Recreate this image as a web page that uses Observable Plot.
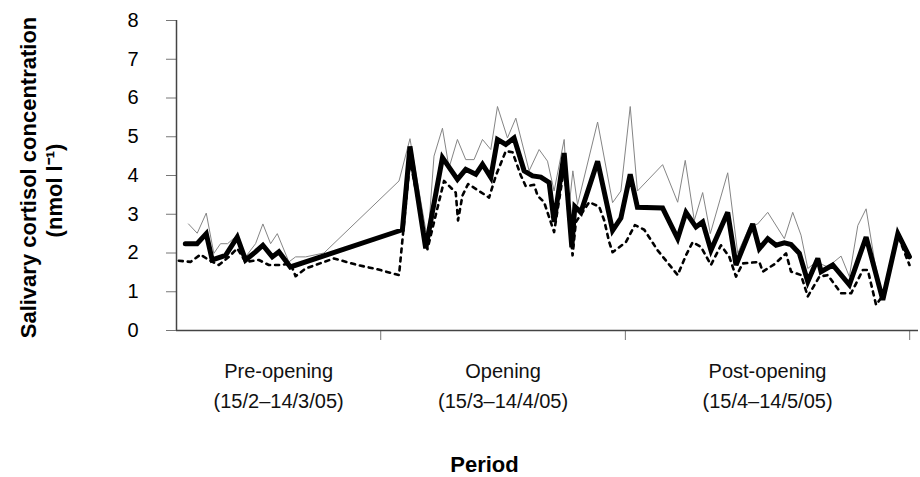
<!DOCTYPE html>
<html>
<head>
<meta charset="utf-8">
<script src="https://cdn.jsdelivr.net/npm/d3@7"></script>
<script src="https://cdn.jsdelivr.net/npm/@observablehq/plot@0.6"></script>
<style>
  html, body { margin: 0; padding: 0; background: #fff; }
  svg g[aria-label="y-axis tick"] path, svg g[aria-label="x-axis tick"] path { stroke: #777; }
</style>
</head>
<body>
<div id="chart"></div>
<script>
// Sample position along the study (arbitrary sampling index) and cortisol (nmol/l)
const thinSeries = [
  [1.63,2.75],[2.82,2.51],[4.05,3.03],[5.08,1.99],[5.99,2.24],[6.95,2.24],[8.27,2.46],[9.4,1.9],
  [10.76,2.24],[11.76,2.75],[12.81,2.24],[13.72,2.5],[15.3,1.77],[16.21,1.9],[17.57,1.9],[20.07,2.0],
  [30.29,3.86],[31.78,4.95],[34.2,2.3],[35.05,4.5],[36.2,5.22],[37.1,4.2],[38.24,4.93],[39.37,4.41],
  [40.5,4.41],[41.65,4.93],[42.78,4.67],[43.69,5.78],[45.05,4.97],[46.19,5.48],[48.0,4.12],[49.36,4.67],
  [50.5,4.37],[51.4,3.6],[52.77,4.93],[53.34,3.0],[53.95,4.12],[54.59,3.25],[57.32,5.38],[59.36,3.3],
  [60.49,3.6],[61.76,5.78],[62.74,3.6],[66.17,4.28],[68.22,3.31],[69.25,4.39],[70.48,2.84],[71.62,3.56],
  [72.66,2.5],[75.03,4.07],[76.39,1.99],[77.97,2.67],[79.11,2.75],[80.48,3.05],[82.74,2.37],[83.88,3.05],
  [85.01,2.46],[85.93,1.6],[87.06,1.77],[88.65,1.64],[90.46,1.92],[91.59,1.39],[92.74,2.71],[93.87,3.14],
  [95.0,1.82],[96.14,0.83],[98.19,2.5],[99.77,1.9]
];
const dashedSeries = [
  [0.31,1.8],[1.91,1.77],[3.27,1.96],[4.4,1.82],[5.76,1.69],[7.13,1.9],[8.27,2.12],[9.4,1.77],
  [11.21,1.82],[12.57,1.69],[14.17,1.69],[15.53,1.73],[16.21,1.4],[17.57,1.6],[21.43,1.86],[24.62,1.69],
  [27.34,1.58],[30.29,1.43],[30.75,2.33],[31.78,4.4],[34.16,2.1],[36.42,3.86],[38.01,3.56],[38.32,2.84],
  [38.92,3.48],[39.69,3.78],[41.19,3.6],[42.55,3.43],[43.46,3.99],[44.82,4.63],[45.74,4.6],[46.87,4.0],
  [47.55,3.72],[48.68,3.76],[49.14,3.48],[50.04,3.31],[51.4,2.54],[52.77,4.2],[53.91,1.94],[54.36,2.8],
  [56.17,3.31],[57.53,3.2],[58.22,2.84],[58.9,2.28],[59.36,2.02],[61.17,2.28],[62.4,2.72],[63.67,2.6],
  [65.49,2.07],[68.22,1.43],[69.35,1.94],[70.26,2.28],[71.39,2.16],[72.75,1.69],[74.11,2.2],[75.25,1.9],
  [76.16,1.39],[77.07,1.73],[79.33,1.77],[79.8,1.52],[81.38,1.71],[82.97,1.99],[83.65,1.52],[85.01,1.43],
  [85.93,0.88],[87.51,1.39],[88.65,1.43],[90.46,0.96],[91.83,0.96],[93.42,1.56],[94.1,1.56],[95.23,0.66],
  [96.14,0.9],[98.19,2.46],[99.77,1.69]
];
const thickSeries = [
  [1.2,2.24],[2.8,2.24],[4.05,2.5],[4.86,1.82],[6.68,1.94],[8.27,2.41],[9.4,1.82],[10.76,2.03],
  [11.76,2.2],[13.04,1.9],[13.94,2.03],[15.5,1.64],[30.75,2.6],[31.78,4.75],[33.92,2.12],[36.2,4.46],
  [38.24,3.9],[39.37,4.16],[40.74,4.03],[41.65,4.29],[42.78,3.95],[43.69,4.93],[44.82,4.8],[45.95,4.97],
  [47.32,4.12],[48.46,3.99],[49.59,3.96],[50.72,3.82],[51.4,2.8],[52.77,4.58],[53.81,2.15],[54.22,3.2],
  [55.04,3.05],[57.32,4.37],[59.36,2.58],[60.49,2.9],[61.76,4.03],[62.74,3.18],[66.17,3.16],[68.22,2.37],
  [69.35,3.05],[70.71,2.67],[71.62,2.8],[72.75,2.07],[75.03,3.05],[76.16,1.69],[78.43,2.75],[79.33,2.11],
  [80.48,2.37],[81.61,2.2],[82.74,2.26],[83.65,2.22],[84.78,1.99],[85.93,1.26],[87.29,1.86],[87.74,1.52],
  [89.33,1.69],[91.59,1.18],[93.87,2.41],[96.14,0.79],[98.19,2.5],[99.77,1.9]
];
const yTicks = [0, 1, 2, 3, 4, 5, 6, 7, 8];
const periodBoundaries = [0, 27.8, 61.1, 99.8];
const periodNames = ["Pre-opening", "Opening", "Post-opening"];
const periodDates = ["(15/2\u201314/3/05)", "(15/3\u201314/4/05)", "(15/4\u201314/5/05)"];
const yTitle1 = "Salivary cortisol concentration";
const yTitle2 = "(nmol l\u207B\u00B9)";
const xTitle = "Period";

const toRows = s => s.map(([t, v]) => ({t, v}));
const periods = periodNames.map((name, i) => ({
  name, dates: periodDates[i],
  mid: (periodBoundaries[i] + periodBoundaries[i + 1]) / 2
}));

const font = "'Liberation Sans', Arial, Helvetica, sans-serif";

const chart = Plot.plot({
  width: 920,
  height: 477,
  marginLeft: 176,
  marginRight: 2,
  marginTop: 20,
  marginBottom: 147,
  style: {fontFamily: font, fontSize: "20px", color: "#000", background: "#fff"},
  x: {domain: [0, 101], ticks: periodBoundaries.slice(1), tickSize: 10, tickFormat: () => "", label: null},
  y: {domain: [0, 8], ticks: yTicks, tickSize: 10, tickPadding: 28, label: null},
  marks: [
    Plot.line(toRows(thinSeries), {x: "t", y: "v", stroke: "#858585", strokeWidth: 1}),
    Plot.line(toRows(dashedSeries), {x: "t", y: "v", stroke: "#000", strokeWidth: 2.6, strokeDasharray: "4,5"}),
    Plot.line(toRows(thickSeries), {x: "t", y: "v", stroke: "#000", strokeWidth: 5, strokeLinejoin: "miter", strokeMiterlimit: 3}),
    Plot.ruleX([0], {stroke: "#444", strokeWidth: 1.5}),
    Plot.ruleY([0], {stroke: "#444", strokeWidth: 1.5}),
    Plot.text(periods, {x: "mid", y: () => 0, text: "name", dy: 40.6, lineAnchor: "middle", fill: "#111", fontSize: 20}),
    Plot.text(periods, {x: "mid", y: () => 0, text: "dates", dy: 70.6, lineAnchor: "middle", fill: "#111", fontSize: 20}),
    Plot.text([xTitle], {frameAnchor: "bottom", text: d => d, dx: -63, dy: 134, textAnchor: "middle", lineAnchor: "middle", fontWeight: "bold", fontSize: 22, fill: "#000"}),
    Plot.text([yTitle1], {frameAnchor: "left", text: d => d, dx: -148, dy: 2, rotate: -90, textAnchor: "middle", lineAnchor: "middle", fontWeight: "bold", fontSize: 22, fill: "#000"}),
    Plot.text([yTitle2], {frameAnchor: "left", text: d => d, dx: -122, dy: 15, rotate: -90, textAnchor: "middle", lineAnchor: "middle", fontWeight: "bold", fontSize: 22, fill: "#000"})
  ]
});
document.getElementById("chart").appendChild(chart);
</script>
</body>
</html>
